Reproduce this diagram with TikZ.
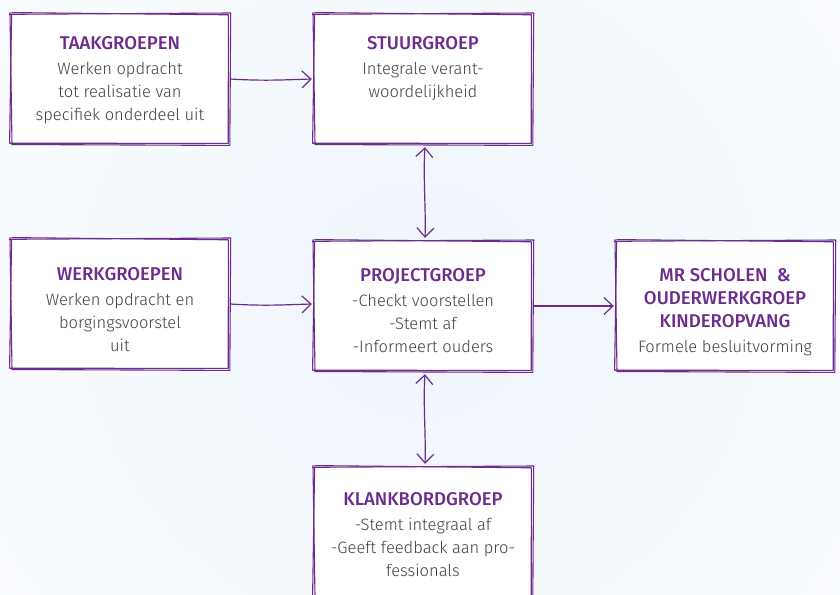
\documentclass[tikz,border=0pt]{standalone}
\usepackage{fontspec}
\setmainfont{Fira Sans}[UprightFont={* Light},BoldFont={* Medium}]
\usetikzlibrary{calc,arrows.meta}
\definecolor{pur}{RGB}{108,44,140}
\definecolor{txt}{RGB}{65,65,65}
\definecolor{gl}{RGB}{238,245,252}
\newcommand\sketchbox[1]{%
  \draw[sk] ($(#1.north west)+(-1.5,0.5)$) -- ($(#1.north east)+(1.5,-0.8)$)
            -- ($(#1.south east)+(0.6,1.2)$) -- ($(#1.south west)+(1.2,0.3)$)
            -- ($(#1.north west)+(-0.8,-1.2)$);
  \draw[sk] ($(#1.north west)+(1,-1.2)$) -- ($(#1.north east)+(-0.8,1)$)
            -- ($(#1.south east)+(-1,-0.8)$) -- ($(#1.south west)+(-1.2,-1)$)
            -- ($(#1.north west)+(0.8,1.2)$);
}
\tikzset{
  box/.style={draw=none,fill=white,minimum width=218pt,minimum height=130pt,inner sep=0pt},
  sk/.style={draw=pur,line width=1.1pt,line cap=round,line join=round},
  lbl/.style={anchor=north,align=center,inner sep=0pt,text=txt,font=\fontsize{16.5}{23}\selectfont},
  conn/.style={draw=pur,line width=1.2pt,-{Straight Barb[length=9pt,width=17pt,line width=1.2pt]}},
  dconn/.style={draw=pur,line width=1.2pt,{Straight Barb[length=9pt,width=17pt,line width=1.2pt]}-{Straight Barb[length=9pt,width=17pt,line width=1.2pt]}}
}
\newcommand\ttl[1]{{\color{pur}\bfseries\fontsize{18.5}{23}\selectfont #1}}
\begin{document}
\begin{tikzpicture}[x=1pt,y=-1pt]
\useasboundingbox (0,0) rectangle (840,594);
\begin{scope}
\clip (0,0) rectangle (840,594);
\shade[inner color=gl,outer color=white] (420,300) circle (780);
\end{scope}
\node[box] (taak) at (120,79) {};
\node[box] (stuur) at (423,79) {};
\node[box] (werk) at (120,304) {};
\node[box] (proj) at (423,306) {};
\node[box] (mr) at (725,306) {};
\node[box] (klank) at (423,532) {};
\foreach \n in {taak,stuur,werk,proj,mr,klank}{\sketchbox{\n}}

\node[lbl] (taakT) at ([yshift=-22]taak.north) {\ttl{TAAKGROEPEN}\\[2pt]Werken opdracht\\tot realisatie van\\specifiek onderdeel uit};
\node[lbl] (stuurT) at ([yshift=-22]stuur.north) {\ttl{STUURGROEP}\\[2pt]Integrale verant-\\woordelijkheid};
\node[lbl] (werkT) at ([yshift=-28]werk.north) {\ttl{WERKGROEPEN}\\[2pt]Werken opdracht en\\borgingsvoorstel\\uit};
\node[lbl] (projT) at ([yshift=-27]proj.north) {\ttl{PROJECTGROEP}\\[2pt]-Checkt voorstellen\\-Stemt af\\-Informeert ouders};
\node[lbl] (mrT) at ([yshift=-27]mr.north) {\ttl{MR SCHOLEN\ \ \&}\\\ttl{OUDERWERKGROEP}\\\ttl{KINDEROPVANG}\\[2pt]Formele besluitvorming};
\node[lbl] (klankT) at ([yshift=-25]klank.north) {\ttl{KLANKBORDGROEP}\\[2pt]-Stemt integraal af\\-Geeft feedback aan pro-\\fessionals};

\draw[conn] ([xshift=1]taak.east) .. controls ($(taak.east)!0.4!(stuur.west)+(0,2)$) and ($(taak.east)!0.6!(stuur.west)+(0,1)$) .. ([xshift=-2]stuur.west);
\draw[conn] ([xshift=1]werk.east) .. controls ($(werk.east)!0.4!(werk.east -| proj.west)+(0,2)$) and ($(werk.east)!0.6!(werk.east -| proj.west)+(0,1)$) .. ([xshift=-2]werk.east -| proj.west);
\draw[conn] ([xshift=1]proj.east) -- ([xshift=-2]mr.west);
\draw[dconn] ([xshift=2,yshift=-3]stuur.south) .. controls ([xshift=0,yshift=-30]stuur.south) and ([xshift=3,yshift=30]proj.north) .. ([xshift=2,yshift=3]proj.north);
\draw[dconn] ([xshift=2,yshift=-3]proj.south) .. controls ([xshift=0,yshift=-30]proj.south) and ([xshift=3,yshift=30]klank.north) .. ([xshift=2,yshift=3]klank.north);
\end{tikzpicture}
\end{document}
